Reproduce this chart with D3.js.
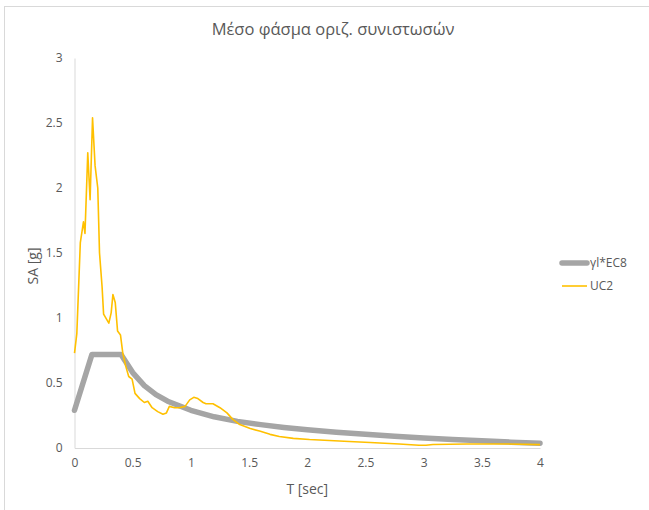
<!DOCTYPE html>
<html>
<head>
<meta charset="utf-8">
<script src="https://cdn.jsdelivr.net/npm/d3@7"></script>
<style>
  body { margin: 0; background: #fff; }
  svg { display: block; font-family: "Open Sans", "Noto Sans", sans-serif; }
</style>
</head>
<body>
<div id="chart"></div>
<script>
// γl*EC8 design spectrum
const ec8T  = [0, 0.15, 0.4, 0.5, 0.6, 0.7, 0.8, 1.0, 1.2, 1.4, 1.6, 1.8, 2.0, 2.25, 2.5, 2.75, 3.0, 3.25, 3.5, 3.75, 4.0];
const ec8SA = [0.29, 0.72, 0.72, 0.58, 0.48, 0.41, 0.36, 0.29, 0.24, 0.205, 0.18, 0.158, 0.14, 0.122, 0.105, 0.09, 0.077, 0.066, 0.055, 0.045, 0.037];

// UC2 mean spectrum
const ucT  = [0, 0.02, 0.05, 0.077, 0.09, 0.114, 0.134, 0.155, 0.177, 0.2, 0.215, 0.237, 0.25, 0.295, 0.315, 0.33, 0.35, 0.37, 0.395, 0.415,
              0.44, 0.466, 0.495, 0.52, 0.56, 0.6, 0.63, 0.667, 0.715, 0.76, 0.79, 0.815, 0.86, 0.9, 0.95, 0.99, 1.025, 1.06, 1.105, 1.13,
              1.19, 1.25, 1.31, 1.36, 1.42, 1.51, 1.59, 1.68, 1.76, 1.88, 2.02, 2.19, 2.36, 2.54, 2.79, 2.96, 3.02, 3.08, 3.37, 3.71, 4.0];
const ucSA = [0.73, 0.88, 1.58, 1.74, 1.65, 2.27, 1.91, 2.54, 2.17, 2.0, 1.5, 1.24, 1.03, 0.96, 1.04, 1.18, 1.12, 0.9, 0.87, 0.73,
              0.63, 0.55, 0.53, 0.42, 0.38, 0.35, 0.36, 0.31, 0.28, 0.26, 0.27, 0.32, 0.31, 0.31, 0.32, 0.37, 0.39, 0.38, 0.35, 0.34,
              0.34, 0.31, 0.27, 0.22, 0.18, 0.15, 0.13, 0.105, 0.088, 0.074, 0.065, 0.058, 0.05, 0.042, 0.031, 0.021, 0.021, 0.027, 0.031, 0.031, 0.026];

const xTicks = [0, 0.5, 1, 1.5, 2, 2.5, 3, 3.5, 4];
const yTicks = [0, 0.5, 1, 1.5, 2, 2.5, 3];
const seriesNames = ['γl*EC8', 'UC2'];

const width = 649, height = 510;
const plot = { left: 74.5, right: 540, top: 58, bottom: 448 };
const textColor = '#595959';

const svg = d3.select('#chart').append('svg')
  .attr('width', width)
  .attr('height', height);

// chart border (only the top/left edges fall inside the picture)
svg.append('rect')
  .attr('x', 4.5).attr('y', 6.5)
  .attr('width', 660).attr('height', 520)
  .attr('fill', 'none').attr('stroke', '#d9d9d9');

const x = d3.scaleLinear().domain([0, 4]).range([plot.left, plot.right]);
const y = d3.scaleLinear().domain([0, 3]).range([plot.bottom, plot.top]);

// axes
const xAxis = svg.append('g')
  .attr('transform', `translate(0,${plot.bottom})`)
  .call(d3.axisBottom(x).tickValues(xTicks).tickSize(0).tickPadding(10).tickFormat(d3.format('~g')));
const yAxis = svg.append('g')
  .attr('transform', `translate(${plot.left},0)`)
  .call(d3.axisLeft(y).tickValues(yTicks).tickSize(0).tickPadding(12).tickFormat(d3.format('~g')));

[xAxis, yAxis].forEach(a => {
  a.select('.domain').attr('stroke', '#d9d9d9').attr('stroke-width', 1);
  a.selectAll('text').attr('fill', textColor).style('font-size', '12px').style('font-family', '"Open Sans", sans-serif');
});

// series lines
const line = d3.line().x(d => x(d[0])).y(d => y(d[1]));

svg.append('path')
  .datum(ec8T.map((t, i) => [t, ec8SA[i]]))
  .attr('d', line)
  .attr('fill', 'none')
  .attr('stroke', '#a5a5a5')
  .attr('stroke-width', 5.5)
  .attr('stroke-linejoin', 'round')
  .attr('stroke-linecap', 'round');

svg.append('path')
  .datum(ucT.map((t, i) => [t, ucSA[i]]))
  .attr('d', line)
  .attr('fill', 'none')
  .attr('stroke', '#ffc000')
  .attr('stroke-width', 1.6)
  .attr('stroke-linejoin', 'round');

// title
svg.append('text')
  .attr('x', 333).attr('y', 35)
  .attr('text-anchor', 'middle')
  .attr('fill', textColor)
  .style('font-size', '16.5px')
  .text('Μέσο φάσμα οριζ. συνιστωσών');

// axis titles
svg.append('text')
  .attr('x', (plot.left + plot.right) / 2).attr('y', 494)
  .attr('text-anchor', 'middle')
  .attr('fill', textColor)
  .style('font-size', '14px')
  .text('T [sec]');

svg.append('text')
  .attr('transform', 'translate(38,266) rotate(-90)')
  .attr('text-anchor', 'middle')
  .attr('fill', textColor)
  .style('font-size', '14px')
  .text('SA [g]');

// legend
const legend = svg.append('g').attr('transform', 'translate(560,263)');
const legendStyles = [
  { color: '#a5a5a5', w: 5.5 },
  { color: '#ffc000', w: 1.6 }
];
seriesNames.forEach((name, i) => {
  const row = legend.append('g').attr('transform', `translate(0,${i * 23})`);
  row.append('line')
    .attr('x1', 2).attr('x2', 27)
    .attr('stroke', legendStyles[i].color)
    .attr('stroke-width', legendStyles[i].w)
    .attr('stroke-linecap', i === 0 ? 'round' : 'butt');
  row.append('text')
    .attr('x', 30).attr('dy', '0.35em')
    .attr('fill', textColor)
    .style('font-size', '12px')
    .text(name);
});
</script>
</body>
</html>
